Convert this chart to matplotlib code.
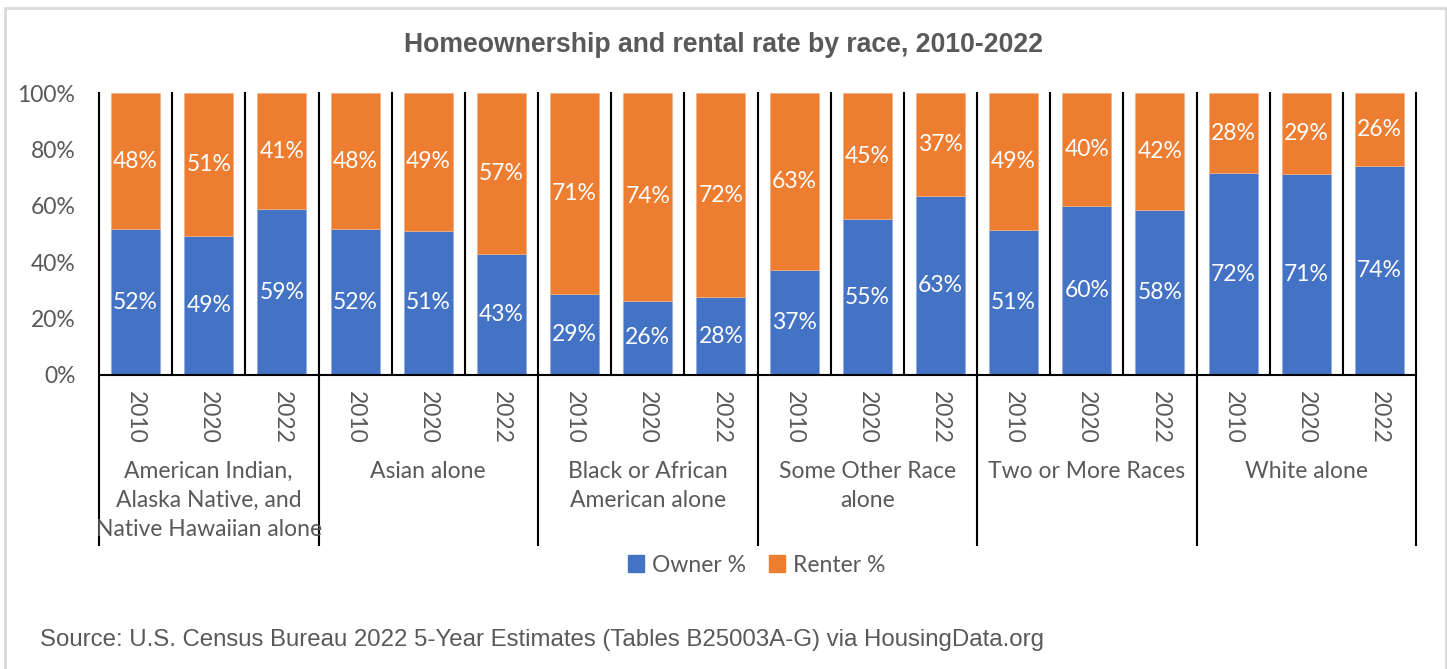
import matplotlib.pyplot as plt
from matplotlib.patches import Patch, Rectangle

# Data
groups = ['American Indian,\nAlaska Native, and\nNative Hawaiian alone', 'Asian alone',
          'Black or African\nAmerican alone', 'Some Other Race\nalone',
          'Two or More Races', 'White alone']
years = ['2010', '2020', '2022']
owner = [51.7, 49.2, 58.8,
         51.6, 51.2, 42.8,
         28.6, 26.4, 27.6,
         37.2, 55.3, 63.3,
         51.3, 59.8, 58.4,
         71.6, 71.2, 74.1]
renter = [48.3, 50.8, 41.2,
          48.4, 48.8, 57.2,
          71.4, 73.6, 72.4,
          62.8, 44.7, 36.7,
          48.7, 40.2, 41.6,
          28.4, 28.8, 25.9]

BLUE = '#4472C4'
ORANGE = '#ED7D31'
GREY = '#595959'
W, H = 1447, 669

plt.rcParams['font.family'] = ['Lato', 'DejaVu Sans']

fig = plt.figure(figsize=(W / 100, H / 100), dpi=100)
ax = fig.add_axes([99 / W, 1 - 375 / H, (1416 - 99) / W, (375 - 93) / H])

n = len(owner)
x = list(range(n))
ax.bar(x, owner, width=0.67, color=BLUE, edgecolor='#8FAADC', linewidth=0.5, zorder=2)
ax.bar(x, renter, width=0.67, bottom=owner, color=ORANGE, edgecolor='#F4B183',
       linewidth=0.5, zorder=2)

for i in range(n):
    ax.text(x[i], owner[i] / 2, f'{round(owner[i])}%', ha='center', va='center',
            color='white', fontsize=16.5)
    ax.text(x[i], owner[i] + renter[i] / 2, f'{round(renter[i])}%', ha='center',
            va='center', color='white', fontsize=16.5)

ax.set_xlim(-0.5, n - 0.5)
ax.set_ylim(0, 100)
ax.set_yticks([0, 20, 40, 60, 80, 100])
ax.set_yticklabels([f'{v}%' for v in range(0, 101, 20)])
ax.tick_params(axis='y', length=0, pad=17, labelsize=16.5, labelcolor=GREY)
ax.set_xticks([])
for s in ['top', 'right', 'left']:
    ax.spines[s].set_visible(False)
ax.spines['bottom'].set_color('black')
ax.spines['bottom'].set_linewidth(1.5)

trans = ax.get_xaxis_transform()
low = -(545 - 375) / (375 - 93)
for k in range(n + 1):
    xb = k - 0.5
    y0 = low if k % 3 == 0 else 0
    ax.plot([xb, xb], [y0, 1], color='black', lw=1.5, transform=trans, clip_on=False, zorder=3)

for i in range(n):
    ax.text(x[i], -(391 - 375) / (375 - 93), years[i % 3], rotation=270, ha='center',
            va='top', transform=trans, fontsize=16.5, color=GREY)
for g, name in enumerate(groups):
    ax.text(3 * g + 1, -(461 - 375) / (375 - 93), name, ha='center', va='top',
            transform=trans, fontsize=16.5, color=GREY, linespacing=1.47)

fig.text(0.5, 1 - 45 / H, 'Homeownership and rental rate by race, 2010-2022',
         ha='center', va='center', fontsize=19.2, fontweight='bold', color=GREY,
         family='Liberation Sans')

handles = [Patch(color=BLUE, label='Owner %'), Patch(color=ORANGE, label='Renter %')]
fig.legend(handles=handles, loc='center', bbox_to_anchor=(757 / W, 1 - 565 / H), ncol=2,
           frameon=False, fontsize=16.5, handlelength=0.7, handleheight=0.7,
           handletextpad=0.35, columnspacing=1.0, labelcolor=GREY)

fig.text(40 / W, 1 - 640 / H,
         'Source: U.S. Census Bureau 2022 5-Year Estimates (Tables B25003A-G) via HousingData.org',
         ha='left', va='center', fontsize=17.3, color=GREY, family='Liberation Sans')

fig.patches.append(Rectangle((5 / W, -0.05), (1446 - 5) / W, 1.05 - 8 / H,
                             transform=fig.transFigure, fill=False, edgecolor='#D9D9D9',
                             lw=2))

fig.savefig('out.png', dpi=100)
